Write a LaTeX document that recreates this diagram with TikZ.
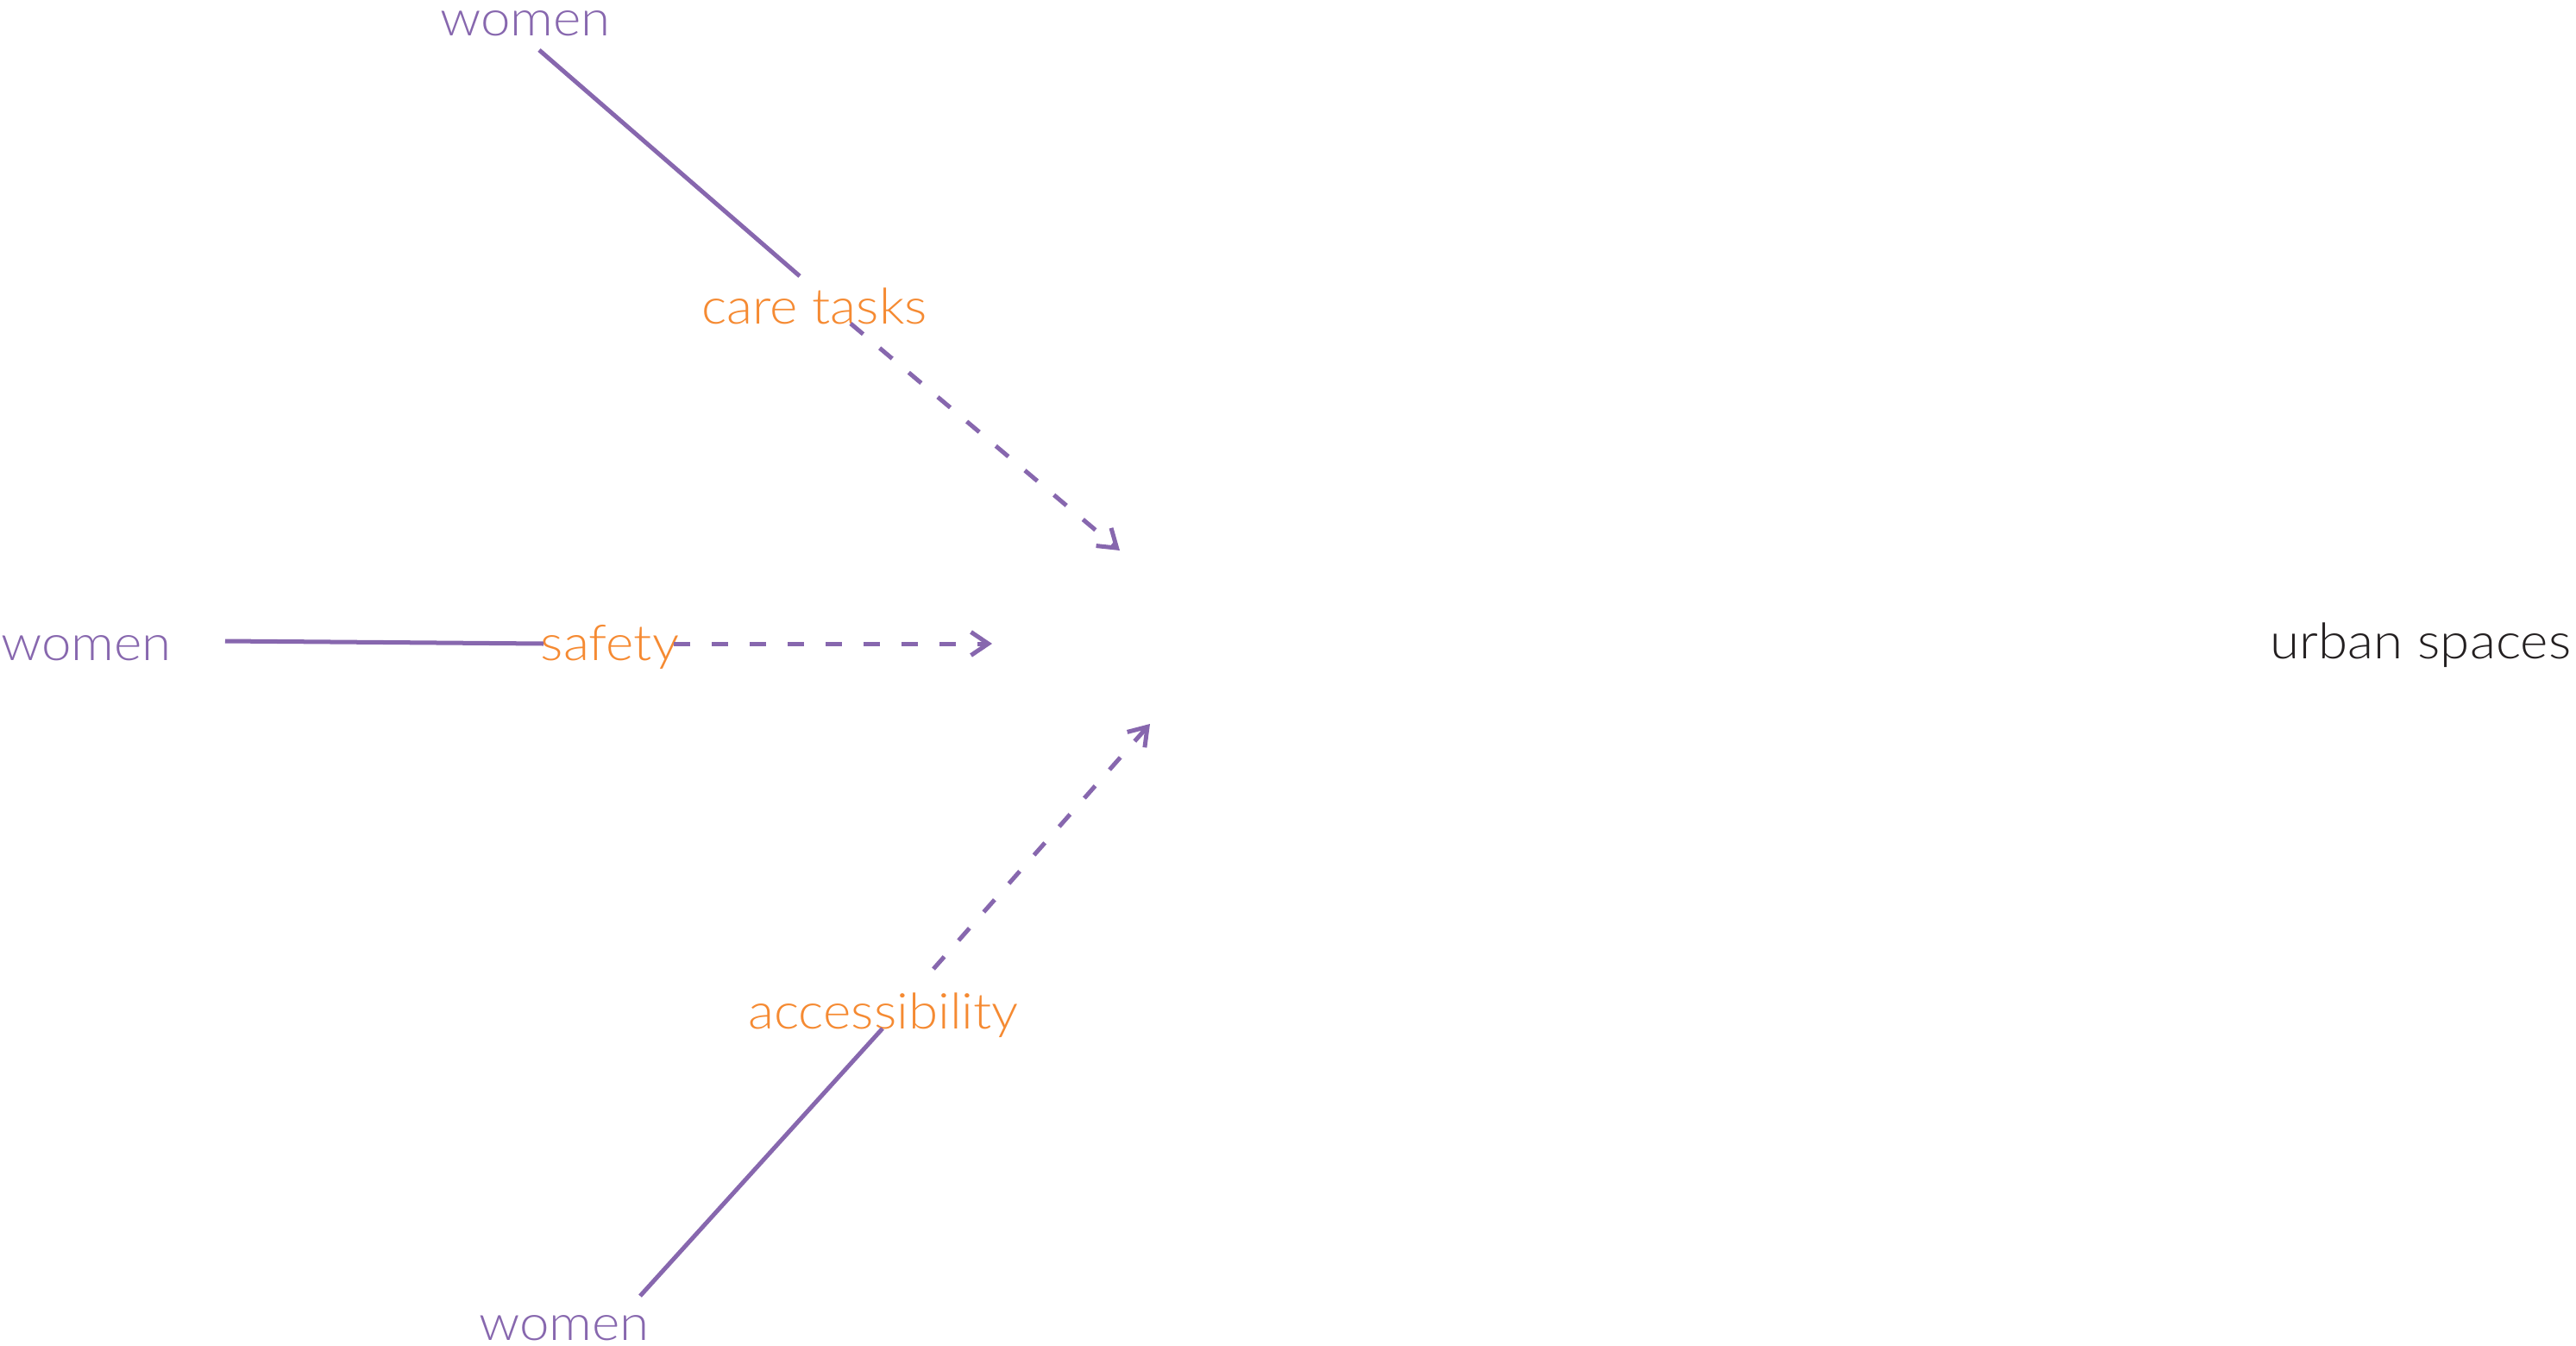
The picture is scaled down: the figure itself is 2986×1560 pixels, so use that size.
\documentclass[tikz,border=0pt]{standalone}
\usepackage{fontspec}
\setmainfont{Lato}[UprightFont={* Light}, FakeStretch=1.08]
\usetikzlibrary{arrows.meta}
\definecolor{linkpurple}{HTML}{8767AE}
\definecolor{themeorange}{HTML}{F58A32}
\definecolor{inkblack}{HTML}{231F20}
\begin{document}
\begin{tikzpicture}[x=0.01cm, y=-0.01cm,
  lbl/.style={font=\fontsize{16.3}{19}\selectfont, inner sep=0pt, anchor=base},
  who/.style={lbl, text=linkpurple},
  factor/.style={lbl, text=themeorange},
  target/.style={lbl, text=inkblack},
  link/.style={draw=linkpurple, line width=0.05cm},
  influence/.style={link, dash pattern=on 0.19cm off 0.25cm,
    -{Straight Barb[length=0.2cm, width=0.27cm]}}]
\useasboundingbox (0,0) rectangle (2986,1560);

% labels
\node[who]    (womenA)  at (609,41)    {women};
\node[factor] (care)    at (944,375)   {care tasks};
\node[who]    (womenB)  at (100,765)   {women};
\node[factor] (safety)  at (707,765)   {safety};
\node[who]    (womenC)  at (654,1553)  {women};
\node[factor] (access)  at (1024,1192) {accessibility};
\node[target] (urban)   at (2806,763)  {urban spaces};

% connector ends
\coordinate (womenA-out) at (625,58);
\coordinate (care-in)    at (927,320);
\coordinate (care-out)   at (986,375);
\coordinate (care-tip)   at (1298,638);
\coordinate (womenB-out) at (261,743);
\coordinate (safety-in)  at (630,746);
\coordinate (safety-out) at (781,746);
\coordinate (safety-tip) at (1150,746);
\coordinate (womenC-out) at (742,1502);
\coordinate (access-in)  at (1023,1192);
\coordinate (access-out) at (1082,1123);
\coordinate (access-tip) at (1333,839);

% solid links from women to each factor
\draw[link] (womenA-out) -- (care-in);
\draw[link] (womenB-out) -- (safety-in);
\draw[link] (womenC-out) -- (access-in);

% dashed influences onward
\draw[influence] (care-out) -- (care-tip);
\draw[influence] (safety-out) -- (safety-tip);
\draw[influence] (access-out) -- (access-tip);
\end{tikzpicture}
\end{document}
